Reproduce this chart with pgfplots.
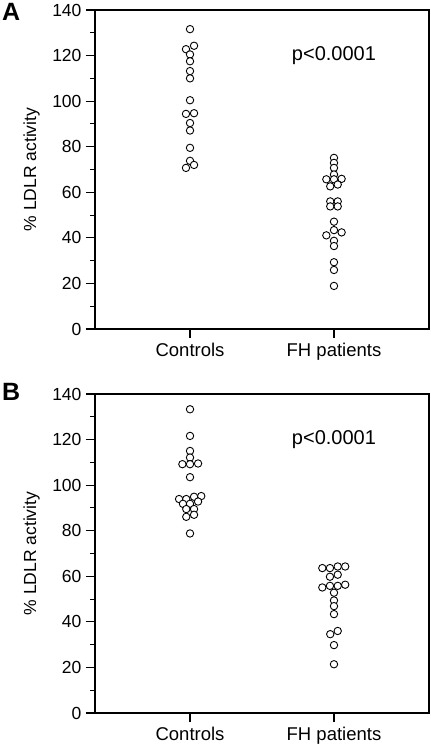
\documentclass[border=0pt]{standalone}
\usepackage{pgfplots}
\pgfplotsset{compat=1.18}
\usepackage{fontspec}
\setmainfont{Liberation Sans}

\pgfplotstableread{
x y
1 131.6
1.028 124.3
0.972 122.8
1 120.5
1 117.5
1 113.2
1 110
1 100.4
0.972 94.4
1.028 94.7
1 90.4
1 87.1
1 79.5
1 73.8
1.028 72
0.972 70.7
}\ctrlA

\pgfplotstableread{
x y
2 75.1
2 72.9
2 70.7
2 67.8
1.947 65.7
2 65.7
2.053 65.9
1.974 62.6
2.026 63.4
1.974 56
2.026 56
1.974 53.8
2.026 53.8
2 47.1
2 43.4
1.947 41.1
2.053 42.4
2 38.7
2 36.4
2 29.3
2 25.9
2 18.9
}\fhA

\pgfplotstableread{
x y
1 133.3
1 121.6
1 115
1 112.1
0.947 109.2
1 109.2
1.056 109.5
1 103.5
0.924 93.9
0.974 93.9
1.028 94.9
1.078 95.2
0.951 91.8
1 91.8
1.056 92.8
0.974 89.5
1.028 89.5
0.974 86.1
1.028 87
1 78.8
}\ctrlB

\pgfplotstableread{
x y
1.919 63.6
1.972 63.6
2.026 64.3
2.078 64.3
1.972 59.8
2.026 60.7
1.919 55.1
1.972 55.8
2.026 55.8
2.078 56.3
2 52.8
2 49.4
2 46.9
2 43.4
1.974 34.6
2.026 36
2 29.8
2 21.4
}\fhB

\pgfplotsset{
  panel/.style={
    scale only axis,
    width=334pt, height=319pt,
    xmin=0.34, xmax=2.66,
    ymin=0, ymax=140,
    xtick={1,2},
    xticklabels={Controls, FH patients},
    ytick={0,20,...,140},
    minor y tick num=1,
    xtick pos=bottom, ytick pos=left,
    tick align=outside,
    major tick length=9pt,
    minor tick length=5pt,
    every tick/.style={black, line width=1.1pt},
    axis line style={line width=1.3pt},
    /pgf/number format/assume math mode=true,
    yticklabel style={font=\fontsize{17.5}{20}\selectfont, xshift=-1pt},
    xticklabel style={font=\fontsize{18.5}{21}\selectfont, yshift=-2pt},
    ylabel={\% LDLR activity},
    ylabel style={font=\fontsize{17.5}{20}\selectfont, at={(axis description cs:-0.19,0.5)}, anchor=center},
    clip=false,
  },
  dots/.style={only marks, mark=o, mark size=3.7pt, mark options={fill=white, draw=black, line width=0.9pt}},
}

\begin{document}
\begin{tikzpicture}
\useasboundingbox (-95pt,-35pt) rectangle (336pt,713pt);
\begin{axis}[panel, at={(0pt,384pt)}, anchor=south west]
  \addplot[dots, mark=*] table[x=x,y=y] {\ctrlA};
  \addplot[dots, mark=*] table[x=x,y=y] {\fhA};
  \node[font=\fontsize{20}{24}\selectfont] at (axis cs:2,120) {p<0.0001};
  \node[font=\fontsize{25}{28}\selectfont\bfseries] at (axis description cs:-0.251,0.994) {A};
\end{axis}
\begin{axis}[panel, at={(0pt,0pt)}, anchor=south west]
  \addplot[dots, mark=*] table[x=x,y=y] {\ctrlB};
  \addplot[dots, mark=*] table[x=x,y=y] {\fhB};
  \node[font=\fontsize{20}{24}\selectfont] at (axis cs:2,120) {p<0.0001};
  \node[font=\fontsize{25}{28}\selectfont\bfseries] at (axis description cs:-0.251,1.008) {B};
\end{axis}
\end{tikzpicture}
\end{document}
